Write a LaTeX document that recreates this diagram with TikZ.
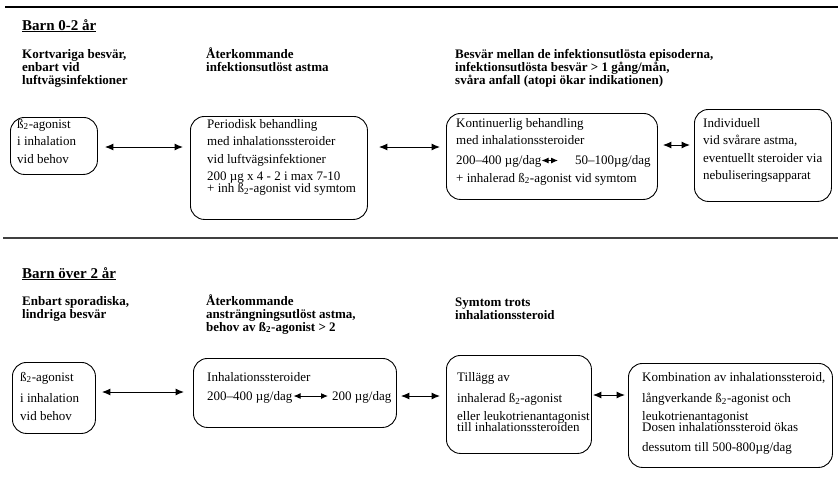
\documentclass[tikz,border=0pt]{standalone}
\usepackage{fontspec}
\setmainfont{Liberation Serif}
\usetikzlibrary{arrows.meta}
\newcommand{\bsub}{ß\textsubscript{2}}
\begin{document}
\begin{tikzpicture}[x=1pt,y=-1pt,
  box/.style={draw,line width=0.9pt,rounded corners=14pt,minimum width=#1,inner sep=0pt,anchor=north west},
  txt/.style={inner sep=0pt,anchor=base west,font=\fontsize{13}{17.5}\selectfont},
  head/.style={inner sep=0pt,anchor=base west,font=\fontsize{13}{13}\selectfont\bfseries},
  title/.style={inner sep=0pt,anchor=base west,font=\fontsize{15}{17}\selectfont\bfseries},
  arr/.style={{Latex[length=8.5pt,width=7pt]}-{Latex[length=8.5pt,width=7pt]},line width=1pt},
  iarr/.style={{Latex[length=7pt,width=6pt]}-{Latex[length=7pt,width=6pt]},line width=1pt}]
\useasboundingbox (0,0) rectangle (838,499);
% rules
\draw[line width=1.4pt] (5,7) coordinate (l1a) -- (838,7) coordinate (l1b);
\draw[line width=1.3pt,black!75] (3,238) coordinate (l2a) -- (838,238) coordinate (l2b);
% ---------- row 1 ----------
\node[title] (h1) at (22,30) {\underline{Barn 0-2 år}};
\node[head] (h1a) at (22,58) {\begin{tabular}[t]{@{}l@{}}Kortvariga besvär,\\ enbart vid\\ luftvägsinfektioner\end{tabular}};
\node[head] (h1b) at (206,58) {\begin{tabular}[t]{@{}l@{}}Återkommande\\ infektionsutlöst astma\end{tabular}};
\node[head] (h1c) at (455,58) {\begin{tabular}[t]{@{}l@{}}Besvär mellan de infektionsutlösta episoderna,\\ infektionsutlösta besvär > 1 gång/mån,\\ svåra anfall (atopi ökar indikationen)\end{tabular}};

\node[box=87pt,minimum height=57pt] (r1a) at (10,117) {};
\node[box=177pt,minimum height=103pt] (r1b) at (190,116) {};
\node[box=211pt,minimum height=86pt] (r1c) at (446,113) {};
\node[box=137pt,minimum height=92pt] (r1d) at (694,109) {};

\node[txt] (t1a) at (17,128) {\begin{tabular}[t]{@{}l@{}}\bsub-agonist\\ i inhalation\\ vid behov\end{tabular}};
\node[txt] (t1b) at (207,128) {\begin{tabular}[t]{@{}l@{}}Periodisk behandling\\ med inhalationssteroider\\ vid luftvägsinfektioner\\ 200 µg x 4 - 2 i max 7-10\\[-5.5pt] + inh \bsub-agonist vid symtom\end{tabular}};
\node[txt] (t1c) at (456,127) {\begin{tabular}[t]{@{}l@{}}Kontinuerlig behandling\\ med inhalationssteroider\end{tabular}};
\node[txt] (p1) at (456,164) {200–400 µg/dag};
\node[txt] (p2) at (575,164) {50–100µg/dag};
\node[txt] (t1c2) at (456,182) {+ inhalerad \bsub-agonist vid symtom};
\node[txt] (t1d) at (703,127) {\begin{tabular}[t]{@{}l@{}}Individuell\\ vid svårare astma,\\ eventuellt steroider via\\ nebuliseringsapparat\end{tabular}};

\draw[iarr,shorten <=0pt,shorten >=17pt] (p1.east |- 0,160.5) -- (p2.west |- 0,160.5);

\draw[arr,shorten <=7pt,shorten >=7pt] (r1a.east |- 0,147) -- (r1b.west |- 0,147);
\draw[arr,shorten <=11pt,shorten >=6pt] (r1b.east |- 0,147) -- (r1c.west |- 0,147);
\draw[arr,shorten <=5pt,shorten >=4pt] (r1c.east |- 0,145) -- (r1d.west |- 0,145);

% ---------- row 2 ----------
\node[title] (h2) at (22,278) {\underline{Barn över 2 år}};
\node[head] (h2a) at (22,305) {\begin{tabular}[t]{@{}l@{}}Enbart sporadiska,\\ lindriga besvär\end{tabular}};
\node[head] (h2b) at (206,305) {\begin{tabular}[t]{@{}l@{}}Återkommande\\ ansträngningsutlöst astma,\\ behov av \bsub-agonist > 2\end{tabular}};
\node[head] (h2c) at (455,306) {\begin{tabular}[t]{@{}l@{}}Symtom trots\\ inhalationssteroid\end{tabular}};

\node[box=83pt,minimum height=71pt] (r2a) at (12,362) {};
\node[box=203pt,minimum height=69pt] (r2b) at (193,358) {};
\node[box=145pt,minimum height=98pt] (r2c) at (446,355) {};
\node[box=204pt,minimum height=104pt] (r2d) at (628,363) {};

\node[txt] (t2a) at (20,381) {\begin{tabular}[t]{@{}l@{}}\bsub-agonist\\[4pt] i inhalation\\ vid behov\end{tabular}};
\node[txt] (t2b) at (207,381) {Inhalationssteroider};
\node[txt] (p3) at (207,400) {200–400 µg/dag};
\node[txt] (p4) at (332,400) {200 µg/dag};
\node[txt] (t2c) at (457,381) {\begin{tabular}[t]{@{}l@{}}Tillägg av\\[4pt] inhalerad \bsub-agonist\\ eller leukotrienantagonist\\[-6pt] till inhalationssteroiden\end{tabular}};
\node[txt] (t2d) at (642,381) {\begin{tabular}[t]{@{}l@{}}Kombination av inhalationssteroid,\\[4pt] långverkande \bsub-agonist och\\ leukotrienantagonist\\[-6pt] Dosen inhalationssteroid ökas\\[2.5pt] dessutom till 500-800µg/dag\end{tabular}};

\draw[iarr,shorten <=1pt,shorten >=4pt] (p3.east |- 0,396) -- (p4.west |- 0,396);

\draw[arr,shorten <=6pt,shorten >=9pt] (r2a.east |- 0,392) -- (r2b.west |- 0,392);
\draw[arr,shorten <=4pt,shorten >=6pt] (r2b.east |- 0,396) -- (r2c.west |- 0,396);
\draw[arr,shorten <=1pt,shorten >=3pt] (r2c.east |- 0,395) -- (r2d.west |- 0,395);
\end{tikzpicture}
\end{document}
